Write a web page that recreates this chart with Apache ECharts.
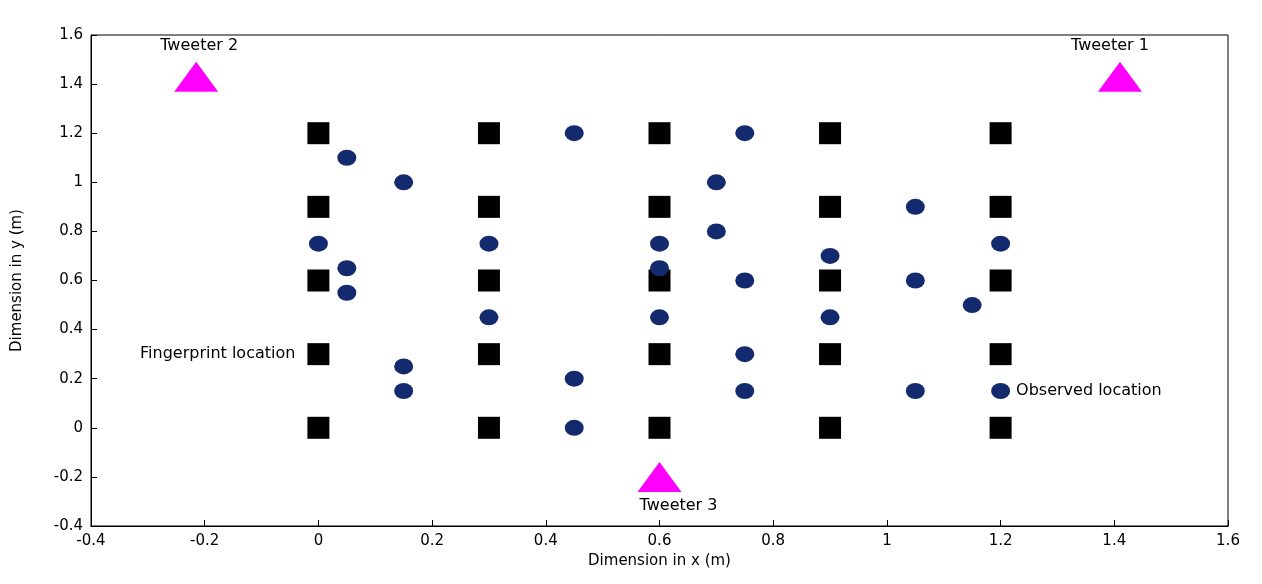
<!DOCTYPE html>
<html><head><meta charset="utf-8">
<script src="https://cdn.jsdelivr.net/npm/echarts@6/dist/echarts.min.js"></script>
<style>html,body{margin:0;background:#fff}#c{width:1262px;height:584px}</style>
</head><body><div id="c"></div>
<script>
const fingerprintX = [0, 0.3, 0.6, 0.9, 1.2];
const fingerprintY = [0, 0.3, 0.6, 0.9, 1.2];
const observed = [
 [0.45,1.2],[0.75,1.2],[0.05,1.1],[0.15,1.0],[0.7,1.0],[1.05,0.9],
 [0,0.75],[0.3,0.75],[0.6,0.75],[0.7,0.8],[1.2,0.75],[0.9,0.7],
 [0.05,0.65],[0.6,0.65],[0.75,0.6],[1.05,0.6],[0.05,0.55],[1.15,0.5],
 [0.3,0.45],[0.6,0.45],[0.9,0.45],[0.15,0.25],[0.75,0.3],[0.45,0.2],
 [0.15,0.15],[0.75,0.15],[1.05,0.15],[1.2,0.15],[0.45,0]
];
const tweeters = [[1.41,1.43,'Tweeter 1','top',-10],[-0.215,1.43,'Tweeter 2','top',3],[0.6,-0.2,'Tweeter 3','bottom',19]];
const fp = [];
fingerprintX.forEach(x=>fingerprintY.forEach(y=>fp.push([x,y])));
const font = {fontFamily:'DejaVu Sans', fontSize:16, color:'#000'};
const chart = echarts.init(document.getElementById('c'));
const axisCommon = {
  axisLine:{onZero:false,lineStyle:{color:'#000'}},
  axisTick:{inside:true,length:6,lineStyle:{color:'#000'}},
  axisLabel:{...font,fontSize:15},
  splitLine:{show:false},
  nameLocation:'middle', nameTextStyle:{...font,fontSize:15}
};
chart.setOption({
  animation:false,
  grid:{left:91,right:34,top:35,bottom:58,show:true,borderColor:'#000',borderWidth:1},
  xAxis:{...axisCommon,type:'value',min:-0.4,max:1.6,interval:0.2,name:'Dimension in x (m)',nameGap:28,
    axisLabel:{...axisCommon.axisLabel,formatter:v=>+v.toFixed(1)+''}},
  yAxis:{...axisCommon,type:'value',min:-0.4,max:1.6,interval:0.2,name:'Dimension in y (m)',nameGap:66,
    axisLabel:{...axisCommon.axisLabel,formatter:v=>+v.toFixed(1)+''}},
  series:[
    {type:'scatter',symbol:'rect',symbolSize:22,itemStyle:{color:'#000',opacity:1},
     data:fp.map(p=>(p[0]===0&&p[1]===0.3)?{value:p,label:{show:true,position:'left',distance:12,formatter:'Fingerprint location',...font}}:p)},
    {type:'scatter',symbol:'circle',symbolSize:[19,16],itemStyle:{color:'#142a6e',opacity:1},
     data:observed.map(p=>(p[0]===1.2&&p[1]===0.15)?{value:p,label:{show:true,position:'right',distance:6,formatter:'Observed location',...font}}:p)},
    {type:'scatter',symbol:'triangle',symbolSize:[44,30],itemStyle:{color:'#ff00ff',opacity:1},
     data:tweeters.map(t=>({value:[t[0],t[1]],label:{show:true,position:t[3],distance:t[3]==='top'?8:6,offset:[t[4],0],formatter:t[2],...font}}))}
  ]
});
</script></body></html>
